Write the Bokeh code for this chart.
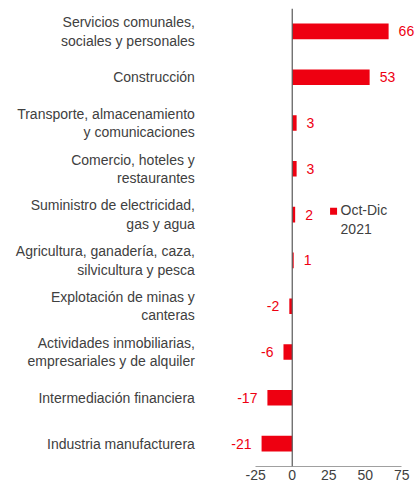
from bokeh.plotting import figure
from bokeh.models import Range1d, FixedTicker, Span, ColumnDataSource
from bokeh.core.properties import value
from bokeh.embed import file_html
from bokeh.resources import INLINE

# ---- data ----
sectors = [
    "Servicios comunales,\nsociales y personales",
    "Construcción",
    "Transporte, almacenamiento\ny comunicaciones",
    "Comercio, hoteles y\nrestaurantes",
    "Suministro de electricidad,\ngas y agua",
    "Agricultura, ganadería, caza,\nsilvicultura y pesca",
    "Explotación de minas y\ncanteras",
    "Actividades inmobiliarias,\nempresariales y de alquiler",
    "Intermediación financiera",
    "Industria manufacturera",
]
values = [66, 53, 3, 3, 2, 1, -2, -6, -17, -21]
series_name = "Oct-Dic\n2021"
x_ticks = [-25, 0, 25, 50, 75]
x_tick_labels = ["-25", "0", "25", "50", "75"]

RED = "#EE0011"
GREY_TXT = "#404040"
FONT = "Liberation Sans"

n = len(sectors)
ypos = [n - 1 - i for i in range(n)]  # first sector on top

src = ColumnDataSource(dict(
    y=ypos,
    cat=sectors,
    val=values,
    lbl=[str(v) for v in values],
    align=["left" if v >= 0 else "right" for v in values],
    xoff=[10 if v >= 0 else -10 for v in values],
    lx=[-66.7] * n,
))

p = figure(
    width=416, frame_height=458,
    x_range=Range1d(-199.8, 85.1),
    y_range=Range1d(-0.5, n - 0.5),
    output_backend="svg", toolbar_location=None,
    min_border_left=0, min_border_right=0, min_border_top=8, min_border_bottom=0,
)
p.outline_line_color = None
p.xgrid.visible = False
p.ygrid.visible = False
p.yaxis.visible = False
p.background_fill_color = "white"
p.border_fill_color = "white"

bars = p.hbar(y="y", right="val", left=0, height=0.34, source=src,
              fill_color=RED, line_color=None)

p.text(x="val", y="y", text="lbl", source=src, text_align="align", x_offset="xoff",
       text_baseline="middle", text_color=RED, text_font=value(FONT), text_font_size="14px")

p.text(x="lx", y="y", text="cat", source=src, text_align="right",
       text_baseline="middle", text_color=GREY_TXT, text_font=value(FONT),
       text_font_size="14px", text_line_height=1.15)

p.add_layout(Span(location=0, dimension="height", line_color="#595959", line_width=1.2))

ax = p.xaxis[0]
ax.ticker = FixedTicker(ticks=x_ticks)
ax.major_label_overrides = {t: l for t, l in zip(x_ticks, x_tick_labels)}
ax.bounds = (x_ticks[0], x_ticks[-1])
ax.axis_line_color = "#A0A0A0"
ax.major_tick_line_color = None
ax.minor_tick_line_color = None
ax.major_tick_out = 0
ax.major_tick_in = 0
ax.minor_tick_out = 0
ax.major_label_standoff = 3
ax.major_label_text_font = FONT
ax.major_label_text_font_size = "14px"
ax.major_label_text_color = GREY_TXT

# legend (square marker + two-line label), beside the 5th row
legend_y = ypos[4]
p.scatter(x=[28.3], y=[legend_y + 0.072], marker="square", size=7,
          fill_color=RED, line_color=None)
p.text(x=[33.1], y=[legend_y - 0.103], text=[series_name], text_align="left",
       text_baseline="middle", text_color=GREY_TXT, text_font=value(FONT),
       text_font_size="14px", text_line_height=1.15)

open("out.html", "w").write(file_html(p, INLINE))
